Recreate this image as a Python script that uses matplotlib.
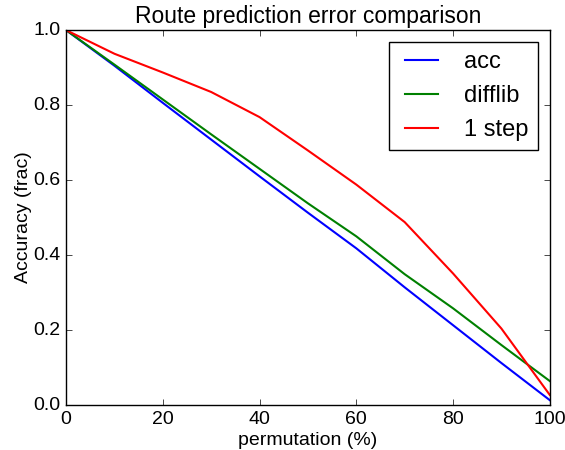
import matplotlib
matplotlib.use('Agg')
import matplotlib.pyplot as plt
import numpy as np

permutation = [0, 10, 20, 30, 40, 50, 60, 70, 80, 90, 100]
acc = [1.0, 0.905, 0.806, 0.708, 0.61, 0.513, 0.418, 0.314, 0.213, 0.112, 0.013]
difflib = [1.0, 0.908, 0.815, 0.722, 0.63, 0.538, 0.45, 0.349, 0.258, 0.16, 0.064]
one_step = [1.0, 0.937, 0.887, 0.835, 0.768, 0.679, 0.588, 0.488, 0.351, 0.204, 0.027]

plt.style.use('classic')
plt.rcParams['font.family'] = ['Liberation Sans', 'DejaVu Sans']

fig = plt.figure(figsize=(5.65, 4.5), dpi=100)
fig.patch.set_facecolor('white')
ax = fig.add_axes([0.117, 0.1, 0.856, 0.833])

ax.plot(permutation, acc, color='b', lw=1.5, label='acc')
ax.plot(permutation, difflib, color='g', lw=1.5, label='difflib')
ax.plot(permutation, one_step, color='r', lw=1.5, label='1 step')

ax.set_xlim(0, 100)
ax.set_ylim(0, 1.0)
ax.set_xticks(np.arange(0, 101, 20))
ax.set_yticks(np.arange(0, 1.01, 0.2))
ax.tick_params(labelsize=14)
ax.set_title('Route prediction error comparison', fontsize=16.5)
ax.set_xlabel('permutation (%)', fontsize=14, labelpad=3)
ax.set_ylabel('Accuracy (frac)', fontsize=14, labelpad=1)
ax.legend(loc='upper right', fontsize=17)

fig.savefig('out.png', dpi=100, facecolor='white')
